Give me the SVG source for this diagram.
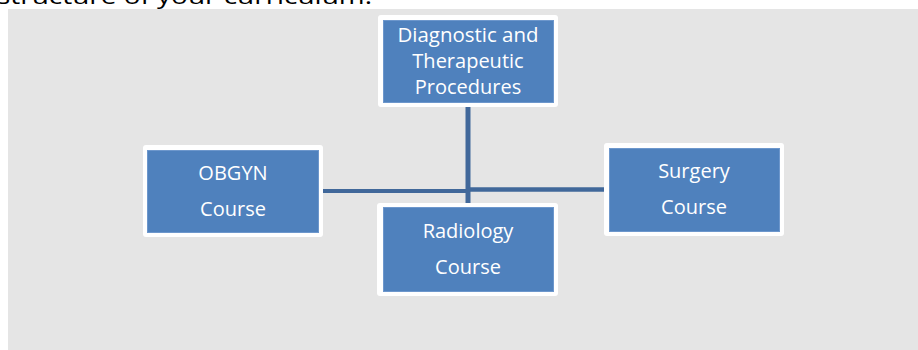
<svg xmlns="http://www.w3.org/2000/svg" width="918" height="350" viewBox="0 0 918 350">
<style>
.frame{fill:#ffffff;}
.box{fill:#4f81bd;stroke:#6d97cc;stroke-width:1;}
.lbl{font-family:"Open Sans","Liberation Sans",sans-serif;font-size:20px;fill:#ffffff;text-anchor:middle;}
.con{stroke:#41689a;fill:none;}
.cap{font-family:"Open Sans","Liberation Sans",sans-serif;font-size:22px;fill:#000000;}
</style>
<rect x="0" y="0" width="918" height="350" fill="#ffffff"/>
<text class="cap" x="-3" y="4" textLength="375" lengthAdjust="spacingAndGlyphs">structure of your curriculum.</text>
<rect x="8" y="9" width="910" height="341" fill="#e5e5e5"/>
<g id="connectors">
<line class="con" x1="468" y1="105" x2="468" y2="205" stroke-width="5"/>
<line class="con" x1="321" y1="191" x2="468" y2="191" stroke-width="4"/>
<line class="con" x1="468" y1="189.5" x2="606" y2="189.5" stroke-width="4.5"/>
</g>
<g id="node-diagnostic">
<rect class="frame" x="378" y="15" width="180" height="92" rx="3"/>
<rect class="box" x="383.5" y="20.5" width="170" height="82"/>
<text class="lbl" x="468" y="42" textLength="141" lengthAdjust="spacingAndGlyphs">Diagnostic and</text>
<text class="lbl" x="468" y="68">Therapeutic</text>
<text class="lbl" x="468" y="94">Procedures</text>
</g>
<g id="node-obgyn">
<rect class="frame" x="143" y="145" width="180" height="92" rx="3"/>
<rect class="box" x="147.5" y="150.5" width="171" height="82"/>
<text class="lbl" x="233" y="180">OBGYN</text>
<text class="lbl" x="233" y="216">Course</text>
</g>
<g id="node-radiology">
<rect class="frame" x="377" y="203" width="181" height="93" rx="3"/>
<rect class="box" x="383.5" y="207.5" width="170" height="84"/>
<text class="lbl" x="468" y="238">Radiology</text>
<text class="lbl" x="468" y="274">Course</text>
</g>
<g id="node-surgery">
<rect class="frame" x="604" y="143" width="180" height="93" rx="3"/>
<rect class="box" x="609.5" y="148.5" width="170" height="83"/>
<text class="lbl" x="694" y="178">Surgery</text>
<text class="lbl" x="694" y="214">Course</text>
</g>
</svg>
